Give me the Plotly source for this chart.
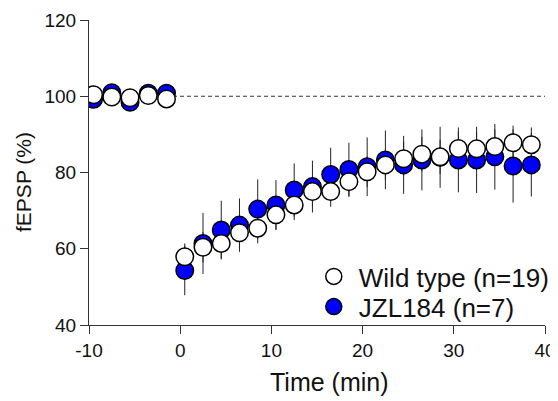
import plotly.graph_objects as go

# ---- data ----
time_min = [-9.5, -7.5, -5.5, -3.5, -1.5,
            0.5, 2.5, 4.5, 6.5, 8.5, 10.5, 12.5, 14.5, 16.5, 18.5,
            20.5, 22.5, 24.5, 26.5, 28.5, 30.5, 32.5, 34.5, 36.5, 38.5]

wt_mean = [100.4, 99.8, 99.6, 100.2, 99.3,
           57.9, 60.4, 61.4, 64.2, 65.4, 68.9, 71.5, 75.0, 75.0, 77.6,
           80.2, 82.0, 83.6, 84.8, 84.1, 86.3, 86.2, 86.8, 87.8, 87.3]
wt_sem = [1.0, 1.0, 1.0, 1.0, 1.0,
          3.5, 4.0, 4.0, 4.0, 4.0, 4.0, 4.0, 4.0, 4.0, 4.0,
          4.0, 4.0, 4.5, 4.5, 4.5, 4.5, 4.5, 4.5, 4.5, 4.5]

jzl_mean = [99.2, 100.9, 98.4, 100.8, 100.8,
            54.3, 61.4, 64.9, 66.2, 70.4, 71.5, 75.4, 76.3, 79.5, 80.8,
            81.5, 83.3, 82.0, 83.3, 84.0, 83.3, 83.3, 84.1, 81.7, 82.0]
jzl_sem = [1.5, 1.5, 1.5, 1.5, 1.5,
           6.5, 8.0, 7.7, 7.0, 7.8, 6.5, 7.0, 6.8, 7.0, 7.0,
           7.7, 7.7, 7.6, 8.0, 8.0, 8.5, 8.7, 8.6, 9.6, 8.3]

baseline_level = 100
x_ticks = [-10, 0, 10, 20, 30, 40]
x_ticktext = ["-10", "0", "10", "20", "30", "40"]
y_ticks = [40, 60, 80, 100, 120]
x_title = "Time (min)"
y_title = "fEPSP (%)"

FONT = "Liberation Sans, Arial, sans-serif"
BLUE = "#0000FF"
TXT = "#111111"

fig = go.Figure()

# error bars first (drawn below all markers)
for y, e in [(jzl_mean, jzl_sem), (wt_mean, wt_sem)]:
    fig.add_trace(go.Scatter(
        x=time_min, y=y, mode="markers",
        marker=dict(size=1, color="rgba(0,0,0,0)"),
        error_y=dict(type="data", array=e, visible=True, color="#222222",
                     thickness=1, width=0),
        showlegend=False, hoverinfo="skip"))

fig.add_trace(go.Scatter(
    x=time_min, y=jzl_mean, mode="markers", name="JZL184 (n=7)",
    marker=dict(size=17.5, color=BLUE, line=dict(color="black", width=1.5)),
    legend="legend2"))
fig.add_trace(go.Scatter(
    x=time_min, y=wt_mean, mode="markers", name="Wild type (n=19)",
    marker=dict(size=17.5, color="white", line=dict(color="black", width=1.5)),
    legend="legend"))

fig.add_shape(type="line", xref="x", yref="y", x0=x_ticks[0], x1=x_ticks[-1],
              y0=baseline_level, y1=baseline_level, layer="below",
              line=dict(color="#333333", width=1, dash="4px,3px"))

axis_common = dict(showgrid=False, zeroline=False, showline=True, automargin=False,
                   linecolor="#333333", linewidth=1.2, ticks="outside",
                   ticklen=8, tickwidth=1, tickcolor="#333333",
                   tickfont=dict(family=FONT, size=19, color=TXT))

fig.update_xaxes(range=[x_ticks[0], x_ticks[-1]], tickvals=x_ticks, ticktext=x_ticktext,
                 **axis_common)
fig.update_yaxes(range=[y_ticks[0], y_ticks[-1]], tickvals=y_ticks, **axis_common)

fig.add_annotation(text=x_title, xref="paper", yref="paper", x=0.527, y=-0.187,
                   xanchor="center", yanchor="middle", showarrow=False,
                   font=dict(family=FONT, size=25, color=TXT))
fig.add_annotation(text=y_title, xref="paper", yref="paper", x=-0.1425, y=0.469,
                   xanchor="center", yanchor="middle", showarrow=False, textangle=-90,
                   font=dict(family=FONT, size=21, color=TXT))

leg_common = dict(xanchor="left", yanchor="middle", bgcolor="rgba(0,0,0,0)",
                  font=dict(family=FONT, size=26, color=TXT), itemwidth=40)

# page body has an 8px default margin, so the figure is 8px smaller than the window
fig.update_layout(
    width=550, height=393,
    margin=dict(l=81, r=13, t=12, b=76, autoexpand=False),
    paper_bgcolor="white", plot_bgcolor="white",
    font=dict(family=FONT, color=TXT),
    legend=dict(x=0.482, y=0.159, **leg_common),
    legend2=dict(x=0.482, y=0.060, **leg_common),
)

fig.write_html("out.html")
